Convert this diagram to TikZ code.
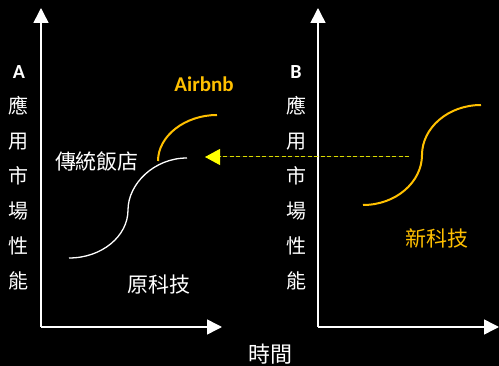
\documentclass[tikz,border=0pt]{standalone}
\usepackage{fontspec}
\setmainfont{Noto Sans CJK TC}
\newfontfamily\latinfont{Carlito}
\usetikzlibrary{arrows.meta,positioning}
\definecolor{gold}{RGB}{255,192,0}
\definecolor{lemon}{RGB}{255,255,0}

\tikzset{
  axis/.style={draw=white,line width=1.5pt,-{Triangle[length=15pt,width=15pt]}},
  vlabel/.style={text=white,align=center,font=\fontsize{20}{35}\selectfont},
  cjk/.style={text=white,font=\fontsize{21}{25}\selectfont},
  oldcurve/.style={draw=white,line width=1.3pt},
  newcurve/.style={draw=gold,line width=2pt}
}

\begin{document}
\begin{tikzpicture}[x=1pt,y=-1pt]
\fill[black] (0,0) rectangle (499,366);
\useasboundingbox (0,0) rectangle (499,366);

% axes A
\coordinate (origA) at (41,327);
\coordinate (topA) at (41,8);
\coordinate (endA) at (222,327);
\draw[axis] (origA) -- (topA);
\draw[axis] (origA) -- (endA);

% axes B
\coordinate (origB) at (318,327);
\coordinate (topB) at (318,8);
\coordinate (endB) at (499,327);
\draw[axis] (origB) -- (topB);
\draw[axis] (origB) -- (endB);

\node[vlabel] (labelA) at (19,178) {{\latinfont\bfseries A}\\應\\用\\市\\場\\性\\能};
\node[vlabel] (labelB) at (296,178) {{\latinfont\bfseries B}\\應\\用\\市\\場\\性\\能};

\node[text=gold,font=\latinfont\bfseries\fontsize{21}{25}\selectfont] (airbnb) at (204,84) {Airbnb};
\node[cjk] (hotel) at (97,162) {傳統飯店};
\node[cjk] (oldtech) at (159,285) {原科技};
\node[cjk,text=gold] (newtech) at (437,238) {新科技};
\node[cjk,font=\fontsize{22}{26}\selectfont] (time) at (270,354) {時間};

% S curves
\draw[oldcurve] (69,258) .. controls (102,258) and (128,236) .. (128,210)
  .. controls (128,184) and (154,158) .. (187,158);
\draw[newcurve] (158,161) .. controls (158,136) and (185,115) .. (217,115);
\draw[newcurve] (363,205) .. controls (396,205) and (422,182) .. (422,155)
  .. controls (422,128) and (448,105) .. (481,105);

% jump
\coordinate (newstart) at (409,157);
\coordinate (oldtip) at (205,157);
\draw[draw=lemon!85!black,fill=lemon,line width=1pt,dash pattern=on 4pt off 2.5pt,-{Triangle[length=15pt,width=16pt,fill=lemon,color=lemon]}] (newstart) -- (oldtip);

\end{tikzpicture}
\end{document}
